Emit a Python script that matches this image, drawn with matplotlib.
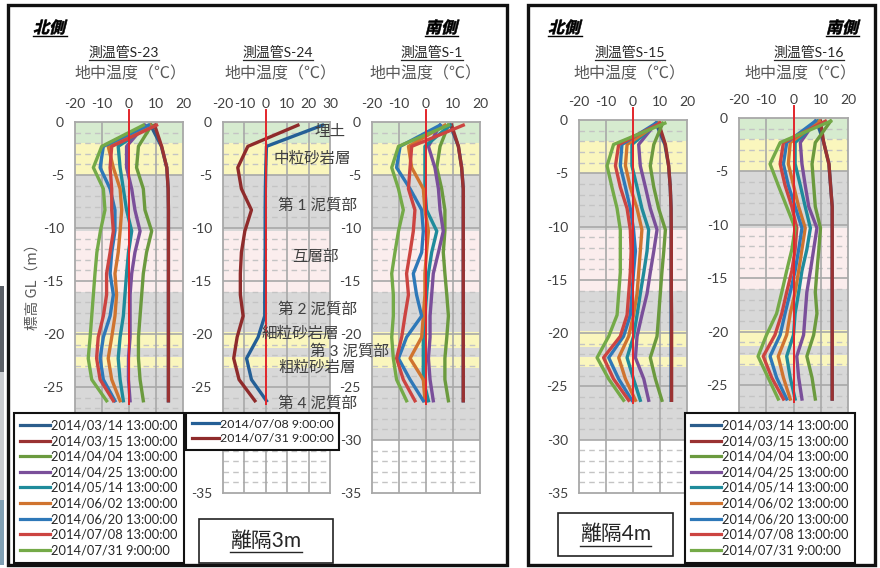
import matplotlib
matplotlib.use('Agg')
import matplotlib.pyplot as plt
from matplotlib.lines import Line2D
from matplotlib.patches import Rectangle, PathPatch
from matplotlib.textpath import TextPath
from matplotlib.font_manager import FontProperties
from matplotlib.transforms import Affine2D

plt.rcParams['font.family'] = ['Lato', 'Noto Sans CJK JP', 'DejaVu Sans']
plt.rcParams['axes.unicode_minus'] = False

W, H = 880, 568

# -- data --
# sensor depth below GL (m)
depth = [-0.3, -2.3, -4.3, -6.3, -8.3, -10.3, -12.3, -14.3, -16.3, -18.3, -20.3, -22.3, -24.3, -26.3]

dates = ['2014/03/14 13:00:00', '2014/03/15 13:00:00', '2014/04/04 13:00:00',
         '2014/04/25 13:00:00', '2014/05/14 13:00:00', '2014/06/02 13:00:00',
         '2014/06/20 13:00:00', '2014/07/08 13:00:00', '2014/07/31 9:00:00']
colors = ['#2b5d8c', '#9a3232', '#6b9a3e', '#7a4f9a', '#1f8b9b',
          '#d0742f', '#2e78b8', '#cc4441', '#74aa48']

# ground temperature (deg C), one row per date
s23 = [
    [8.0, 12.0, 14.0, 14.5, 14.6, 14.6, 14.6, 14.6, 14.6, 14.6, 14.6, 14.6, 14.6, 14.6],
    [9.5, 12.1, 14.0, 14.5, 14.6, 14.6, 14.6, 14.6, 14.6, 14.6, 14.6, 14.6, 14.6, 14.6],
    [8.4, 3.5, 2.8, 5.3, 5.9, 8.4, 6.5, 5.3, 4.7, 4.1, 3.5, 3.5, 4.1, 5.3],
    [5.9, -0.9, -0.9, 1.0, 2.2, 4.1, 2.2, 1.0, 0.4, 0.4, 0.4, -0.2, -0.2, 0.4],
    [7.8, -4.0, -3.3, -2.1, -0.9, 1.0, -0.2, -0.9, -1.5, -2.1, -3.3, -4.0, -3.3, -2.1],
    [7.8, -7.7, -5.8, -3.3, -2.7, -3.3, -4.0, -5.2, -4.6, -5.2, -6.4, -7.7, -6.4, -3.3],
    [7.2, -9.5, -10.7, -7.0, -5.2, -5.2, -6.4, -7.0, -5.8, -7.0, -9.5, -10.7, -9.5, -5.2],
    [10.2, -6.4, -7.0, -6.4, -6.4, -5.8, -7.0, -8.3, -8.3, -9.5, -11.4, -12.0, -10.7, -5.8],
    [5.3, -10.1, -13.2, -9.5, -8.9, -10.6, -11.9, -12.6, -13.2, -13.8, -14.4, -15.1, -13.8, -8.3],
]
s1 = [
    [9.0, 12.0, 13.2, 13.8, 13.8, 13.8, 13.8, 13.8, 13.8, 13.8, 13.8, 13.8, 13.8, 13.8],
    [9.5, 12.0, 13.2, 13.8, 13.8, 13.8, 13.8, 13.8, 13.8, 13.8, 13.8, 13.8, 13.8, 13.8],
    [8.3, 5.2, 4.0, 5.8, 7.0, 7.0, 6.4, 7.0, 7.7, 8.3, 7.7, 7.0, 7.0, 8.3],
    [5.2, 0.9, 3.3, 4.6, 5.2, 6.4, 4.6, 2.7, 2.1, 1.5, 1.5, 0.9, 1.5, 2.7],
    [8.9, -0.4, -0.4, -0.4, 0.2, 4.0, 2.1, 0.9, 0.2, -0.4, -1.0, -1.0, -1.0, 0.9],
    [7.0, -6.5, -5.3, -1.0, -0.4, 0.9, 0.2, -0.4, -0.4, -1.0, -1.6, -5.9, -1.0, -0.4],
    [5.2, -9.6, -10.9, -5.9, -1.6, -1.0, -1.6, -4.7, -3.5, -1.6, -7.2, -10.2, -5.9, -1.0],
    [13.8, -5.3, -5.9, -6.5, -4.1, -4.7, -5.9, -7.2, -6.5, -7.8, -9.0, -10.9, -8.4, -4.1],
    [8.3, -10.2, -12.7, -10.2, -8.4, -10.2, -11.5, -12.7, -12.1, -12.1, -12.7, -12.1, -10.9, -7.2],
]
s15 = [
    [8.5, 11.8, 13.2, 13.8, 14.1, 14.1, 14.1, 14.1, 14.1, 14.1, 14.1, 14.1, 14.1, 14.1],
    [9.5, 12.0, 13.2, 13.8, 14.1, 14.2, 14.2, 14.2, 14.2, 14.3, 14.3, 14.3, 14.3, 14.3],
    [11.0, 7.7, 6.4, 7.7, 9.5, 12.0, 11.4, 10.7, 10.1, 9.5, 8.9, 6.4, 8.3, 10.7],
    [8.5, 2.1, 2.7, 4.6, 6.4, 8.9, 7.7, 6.4, 5.2, 3.3, 1.5, 0.9, 4.0, 5.8],
    [9.0, -0.4, -0.4, 1.5, 3.3, 5.8, 5.2, 4.0, 2.7, 1.5, 0.2, -2.2, 0.2, 2.7],
    [9.5, -2.2, -2.8, -1.0, 1.5, 3.3, 2.7, 2.1, 1.5, 0.2, -1.6, -5.3, -2.8, 0.9],
    [8.5, -4.1, -4.7, -2.8, -1.0, 0.2, 0.9, 0.2, -0.4, -1.0, -3.5, -9.0, -5.3, -0.4],
    [10.0, -5.3, -6.5, -4.7, -2.2, -1.0, -0.7, -1.0, -1.6, -2.2, -4.7, -10.9, -7.2, -1.6],
    [11.8, -7.2, -9.6, -7.8, -5.9, -4.7, -4.7, -4.7, -5.3, -5.9, -9.0, -13.3, -9.0, -3.5],
]
s16 = [
    [8.5, 11.1, 13.0, 13.6, 14.2, 14.2, 14.2, 14.2, 14.2, 14.2, 14.2, 14.2, 14.2, 14.2],
    [9.9, 11.1, 13.0, 13.6, 14.2, 14.2, 14.2, 14.2, 14.2, 14.2, 14.2, 14.2, 14.2, 14.2],
    [13.6, 8.0, 6.8, 7.4, 8.0, 9.9, 9.3, 8.6, 8.0, 8.6, 7.4, 4.9, 6.8, 8.0],
    [8.0, 2.5, 3.1, 4.3, 5.6, 8.6, 7.4, 6.2, 4.9, 4.3, 3.7, 1.2, 1.9, 3.1],
    [9.0, 0.6, 0.6, 2.5, 4.3, 6.2, 4.9, 3.1, 1.9, 0.6, 0.0, -2.5, -1.2, 0.6],
    [9.5, -1.2, -1.9, 0.0, 1.9, 4.3, 3.1, 1.9, 0.6, -1.2, -2.5, -5.6, -3.7, -1.2],
    [8.0, -2.5, -3.7, -1.9, 0.6, 3.1, 1.9, 0.6, -1.2, -3.1, -4.9, -8.6, -6.2, -2.5],
    [11.7, -3.7, -4.9, -3.1, -0.6, 1.2, 0.6, -0.6, -2.5, -4.3, -6.8, -11.1, -8.0, -3.7],
    [13.6, -4.9, -8.6, -5.6, -2.5, 0.6, -0.6, -2.5, -4.3, -6.2, -9.9, -13.0, -9.3, -5.6],
]
# S-24 only two dates
s24_dates = ['2014/07/08 9:00:00', '2014/07/31 9:00:00']
s24_colors = ['#245f96', '#8f2b2b']
s24 = [
    [26.5, 0.3, 0.0, -0.2, -0.3, -0.3, -0.3, -0.4, -0.5, -0.5, -3.6, -9.0, -6.7, 0.3],
    [15.0, -8.4, -13.1, -11.4, -6.7, -9.8, -11.4, -11.9, -11.9, -10.6, -13.4, -15.0, -12.5, -5.1],
]

# soil layers: (top, bottom, colour)
layers = [(0, -2.0, '#d6ebcf'), (-2.0, -5.0, '#faf6bd'), (-5.0, -10.3, '#d8d8d8'),
          (-10.3, -16.0, '#fbeded'), (-16.0, -19.8, '#d8d8d8'), (-19.8, -21.3, '#faf6bd'),
          (-21.3, -22.2, '#d8d8d8'), (-22.2, -23.2, '#faf6bd'), (-23.2, -30.0, '#d8d8d8')]
layer_names = ['埋土', '中粒砂岩層', '第 1 泥質部', '互層部', '第 2 泥質部',
               '細粒砂岩層', '第 3 泥質部', '粗粒砂岩層', '第 4 泥質部']
layer_label_xy = [(330, 132), (312, 158), (317, 205), (315, 257), (317, 309),
                  (300, 333), (349, 351), (317, 367), (317, 403)]

yticks = [0, -5, -10, -15, -20, -25, -30, -35]

fig = plt.figure(figsize=(W / 100, H / 100), dpi=100)


def fx(x):
    return x / W


def fy(y):
    return 1 - y / H


def panel(x0, x1, y0, y1, xticks, covered=False):
    ax = fig.add_axes([fx(x0), fy(y1), (x1 - x0) / W, (y1 - y0) / H])
    ax.set_xlim(xticks[0], xticks[-1])
    ax.set_ylim(-35, 0)
    for top, bot, c in layers:
        ax.axhspan(bot, top, color=c, lw=0, zorder=0)
    for d in range(-34, 0):
        if d % 5:
            ax.axhline(d, color='#c4c4c4', lw=1.0, ls=(0, (4, 3)), zorder=1)
        else:
            ax.axhline(d, color='#a8a8a8', lw=1.2, zorder=1)
    for t in xticks[1:-1]:
        ax.axvline(t, color='#a8a8a8', lw=1.2, zorder=1)
    for sp in ax.spines.values():
        sp.set_color('#a8a8a8')
        sp.set_linewidth(1.3)
    ax.set_xticks(xticks)
    ax.set_xticklabels([str(t) for t in xticks])
    ax.set_yticks(yticks)
    # the lowest labels sit under the legend box
    ax.set_yticklabels([str(t) if not (covered and t < -25) else '' for t in yticks])
    ax.tick_params(axis='x', top=True, labeltop=True, bottom=False, labelbottom=False,
                   length=0, pad=9, labelsize=10, labelcolor='#404040')
    ax.tick_params(axis='y', length=0, pad=8, labelsize=10, labelcolor='#404040')
    # 0 deg reference
    ax.plot([0, 0], [1.1, -26.6], color='#e3262b', lw=1.4, clip_on=False, zorder=6)
    return ax


def draw_lines(ax, series, cols):
    for vals, c in zip(series, cols):
        ax.plot(vals, depth, color=c, lw=2.4, solid_joinstyle='round', zorder=3)


ax23 = panel(75, 183, 122, 493, [-20, -10, 0, 10, 20], covered=True)
draw_lines(ax23, s23, colors)
ax24 = panel(223, 330, 122, 493, [-20, -10, 0, 10, 20, 30])
draw_lines(ax24, s24, s24_colors)
ax1 = panel(372, 480, 122, 493, [-20, -10, 0, 10, 20])
draw_lines(ax1, s1, colors)
ax15 = panel(579, 687, 120, 493, [-20, -10, 0, 10, 20])
draw_lines(ax15, s15, colors)
ax16 = panel(739, 848, 118, 492, [-20, -10, 0, 10, 20], covered=True)
draw_lines(ax16, s16, colors)

# outer frames
for x0, x1 in [(8, 507), (528, 875)]:
    fig.add_artist(Rectangle((fx(x0), fy(565)), (x1 - x0) / W, 560 / H, fill=False,
                             ec='#111111', lw=2.4, transform=fig.transFigure, zorder=8))
# strip of the neighbouring figure at the far left
fig.add_artist(Rectangle((0, fy(372)), 4 / W, 86 / H, color='#5a5f66',
                         transform=fig.transFigure, lw=0))
fig.add_artist(Rectangle((0, fy(500)), 4 / W, 128 / H, color='#c9ccd0',
                         transform=fig.transFigure, lw=0))
fig.add_artist(Rectangle((0, fy(565)), 4 / W, 65 / H, color='#7f9fb3',
                         transform=fig.transFigure, lw=0))

cjk = ['Noto Sans CJK JP', 'DejaVu Sans']
mixed = ['Lato', 'Noto Sans CJK JP']
renderer = fig.canvas.get_renderer()


def underline(t, gap=1.5, lw=1.0, color=None):
    bb = t.get_window_extent(renderer)
    y = bb.y0 - gap
    fig.add_artist(Line2D([bb.x0 / W, bb.x1 / W], [y / H, y / H], color=color or t.get_color(),
                          lw=lw, transform=fig.transFigure))


def slanted(x, y, s):
    tp = TextPath((0, 0), s, size=11.5, prop=FontProperties(family='Noto Sans CJK JP', weight='bold'))
    tr = Affine2D().skew_deg(14, 0).scale(100 / 72).translate(x, H - y)
    fig.add_artist(PathPatch(tp, transform=tr, fc='black', ec='black', lw=0.4))
    w = tp.get_extents().width * 100 / 72
    fig.add_artist(Line2D([x / W, (x + w + 3) / W], [fy(y + 3), fy(y + 3)], color='black',
                          lw=1.0, transform=fig.transFigure))


for x in (33, 548):
    slanted(x, 33, '北側')
for x in (425, 826):
    slanted(x, 33, '南側')

titles = ['測温管S-23', '測温管S-24', '測温管S-1', '測温管S-15', '測温管S-16']
title_x = [124, 278, 432, 630, 809]
sub_x = [130, 280, 425, 629, 800]
for s, x in zip(titles, title_x):
    t = fig.text(fx(x), fy(52), s, ha='center', va='center', fontsize=10,
                 color='#262626', family=mixed)
    underline(t, gap=1.5, lw=0.9)
for x in sub_x:
    fig.text(fx(x), fy(74), '地中温度（℃）', ha='center', va='center', fontsize=11.5,
             color='#595959', family=cjk)

fig.text(fx(33), fy(283), '標高 GL（m）', rotation=90, ha='center', va='center',
         fontsize=10.5, color='#595959', family=cjk)

for s, (x, y) in zip(layer_names, layer_label_xy):
    fig.text(fx(x), fy(y), s, ha='center', va='center', fontsize=11.2,
             color='#404040', family=mixed, zorder=7)

# separation boxes
for (x0, y0, x1, y1), s in [((199, 519, 333, 563), '離隔3m'), ((558, 513, 673, 556), '離隔4m')]:
    fig.add_artist(Rectangle((fx(x0), fy(y1)), (x1 - x0) / W, (y1 - y0) / H, fill=False,
                             ec='#222222', lw=1.2, transform=fig.transFigure))
    t = fig.text(fx((x0 + x1) / 2), fy((y0 + y1) / 2), s, ha='center', va='center',
                 fontsize=15, color='#262626', family=mixed)
    underline(t, gap=1, lw=1.0)


def legend(labels, cols, x, y, size=9.3, hlen=2.3, pad=0.5):
    handles = [Line2D([], [], color=c, lw=2.3) for c in cols]
    leg = fig.legend(handles, labels, loc='upper left', bbox_to_anchor=(fx(x), fy(y)),
                     borderaxespad=0, frameon=True, fancybox=False, framealpha=1,
                     edgecolor='#111111', handlelength=hlen, handletextpad=0.1,
                     labelspacing=0.28, borderpad=pad,
                     prop=FontProperties(family='Lato', size=size))
    leg.get_frame().set_linewidth(1.5)
    for t in leg.get_texts():
        t.set_color('#262626')
    leg.set_zorder(9)
    return leg


legend(dates, colors, 14, 413)
legend(s24_dates, s24_colors, 186, 413, size=8.9, hlen=2.2, pad=0.45)
legend(dates, colors, 685, 413)

fig.savefig('out.png', dpi=100)
